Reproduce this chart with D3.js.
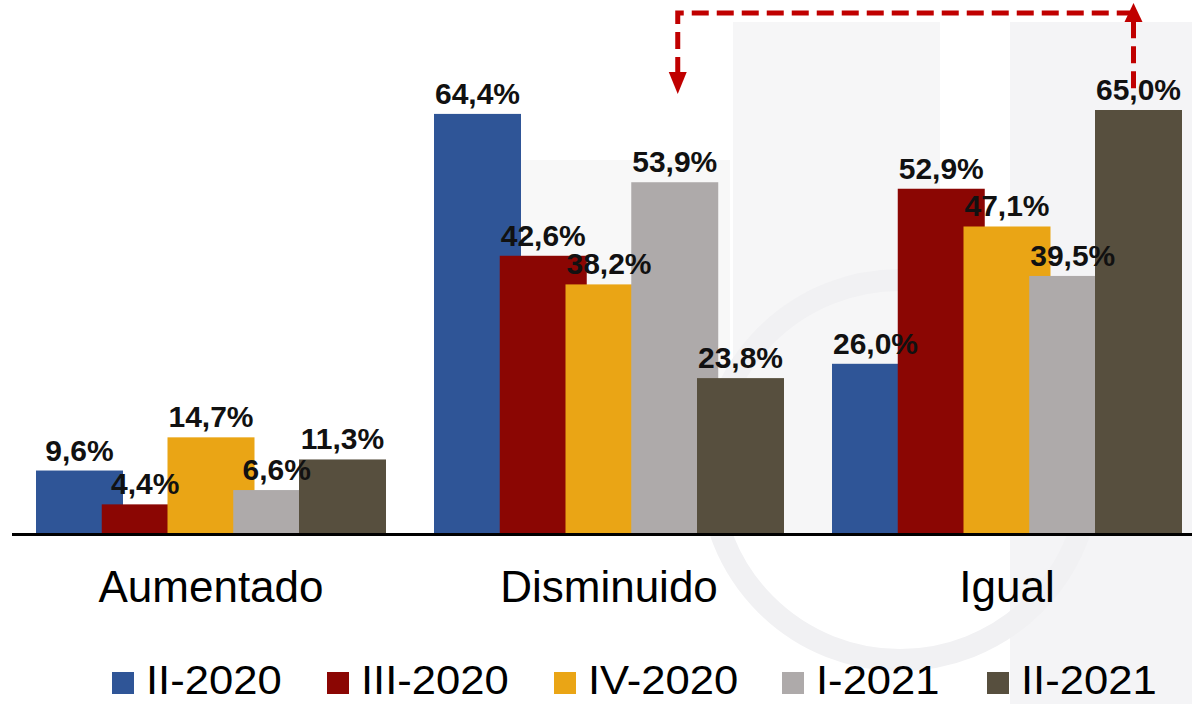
<!DOCTYPE html>
<html>
<head>
<meta charset="utf-8">
<script src="https://cdn.jsdelivr.net/npm/d3@7"></script>
<style>
  body { margin: 0; background: #fff; }
  svg { display: block; font-family: "Liberation Sans", Arial, sans-serif; }
</style>
</head>
<body>
<div id="chart"></div>
<script>
// categories and series
const categories = ["Aumentado", "Disminuido", "Igual"];
const series = ["II-2020", "III-2020", "IV-2020", "I-2021", "II-2021"];
const colors = ["#2f5597", "#8b0603", "#eaa515", "#aeaaaa", "#574f3e"];

// values per series, in order of categories
const v_II2020  = [9.6, 64.4, 26.0];
const v_III2020 = [4.4, 42.6, 52.9];
const v_IV2020  = [14.7, 38.2, 47.1];
const v_I2021   = [6.6, 53.9, 39.5];
const v_II2021  = [11.3, 23.8, 65.0];
const values = [v_II2020, v_III2020, v_IV2020, v_I2021, v_II2021];

const W = 1192, H = 704;
const svg = d3.select('#chart').append('svg')
  .attr('width', W)
  .attr('height', H);

// faint watermark shapes in the background
const wm = svg.append('g').attr('class', 'watermark');
wm.append('rect').attr('x', 520).attr('y', 160).attr('width', 210).attr('height', 375).attr('fill', '#f8f8f8');
wm.append('rect').attr('x', 733).attr('y', 22).attr('width', 207).attr('height', 513).attr('fill', '#f6f6f7');
wm.append('rect').attr('x', 1010).attr('y', 22).attr('width', 182).attr('height', 682).attr('fill', '#f4f4f6');
wm.append('circle').attr('cx', 900).attr('cy', 470).attr('r', 190)
  .attr('fill', 'none').attr('stroke', '#f1f1f3').attr('stroke-width', 22);

// scales
const y = d3.scaleLinear().domain([0, 65]).range([533, 110]);

const x0 = d3.scaleBand()
  .domain(categories)
  .range([36, 1182])
  .paddingInner(0.1206);

const x1 = d3.scaleBand()
  .domain(series)
  .range([0, 328.75]);

const barW = 87; // bars overlap, wider than step

const groups = svg.append('g').attr('class', 'bars')
  .selectAll('g')
  .data(categories)
  .join('g')
    .attr('transform', d => `translate(${x0(d)},0)`);

groups.each(function(cat, ci) {
  const g = d3.select(this);
  series.forEach(function(s, si) {
    const v = values[si][ci];
    g.append('rect')
      .attr('x', x1(s))
      .attr('y', y(v))
      .attr('width', barW)
      .attr('height', y(0) - y(v))
      .attr('fill', colors[si]);
  });
});

// value labels on top (drawn after all bars)
const lbl = svg.append('g').attr('class', 'labels');
categories.forEach(function(cat, ci) {
  series.forEach(function(s, si) {
    const v = values[si][ci];
    lbl.append('text')
      .attr('x', x0(cat) + x1(s) + barW / 2)
      .attr('y', y(v) - 10)
      .attr('text-anchor', 'middle')
      .attr('font-size', 30)
      .attr('font-weight', 'bold')
      .attr('fill', '#111')
      .text(v.toFixed(1).replace('.', ',') + '%');
  });
});

// baseline axis
const xAxis = d3.axisBottom(x0).tickSize(0).tickPadding(38);
const ax = svg.append('g')
  .attr('transform', `translate(0,${y(0)})`)
  .call(xAxis);
ax.select('.domain')
  .attr('d', `M12,1.5H${W}`)
  .attr('stroke', '#000')
  .attr('stroke-width', 3);
ax.selectAll('.tick text')
  .attr('font-size', 44)
  .attr('font-family', '"Liberation Sans", Arial, sans-serif')
  .attr('fill', '#000')
  .attr('dy', '0.71em');

// legend (text a bit stretched sideways like the original)
const legendX = [112, 327, 554, 782, 987];
const leg = svg.append('g').attr('class', 'legend');
series.forEach(function(s, i) {
  leg.append('rect')
    .attr('x', legendX[i]).attr('y', 672)
    .attr('width', 22).attr('height', 22)
    .attr('fill', colors[i]);
  leg.append('text')
    .attr('transform', `translate(${legendX[i] + 34},694) scale(1.09,1)`)
    .attr('font-size', 40)
    .attr('fill', '#000')
    .text(s);
});

// red dashed arrow between I-2021 Disminuido and II-2021 Igual
const red = '#c00000';
const ax1 = x0('Disminuido') + x1('I-2021') + barW / 2 + 3;
const ax2 = x0('Igual') + x1('II-2021') + barW / 2 - 5;
svg.append('path')
  .attr('d', `M${ax1},74V13H${ax2}V92`)
  .attr('fill', 'none')
  .attr('stroke', red)
  .attr('stroke-width', 5)
  .attr('stroke-dasharray', '17,8');
svg.append('path')
  .attr('d', `M${ax1 - 9},72L${ax1 + 9},72L${ax1},94Z`)
  .attr('fill', red);
svg.append('path')
  .attr('d', `M${ax2 - 9},22L${ax2 + 9},22L${ax2},3Z`)
  .attr('fill', red);
</script>
</body>
</html>
